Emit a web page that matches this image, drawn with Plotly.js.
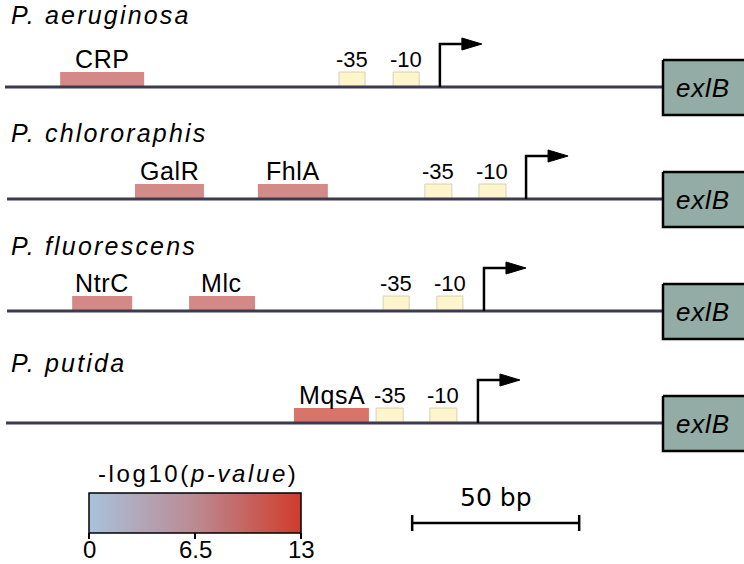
<!DOCTYPE html>
<html><head><meta charset="utf-8">
<script src="https://cdn.plot.ly/plotly-3.0.1.min.js"></script>
<style>html,body{margin:0;padding:0;background:#fff}#chart{width:744px;height:564px}</style>
</head><body><div id="chart"></div>
<script>
// ---- data (bp, relative to the exlB start codon) ----
const species = ['P. aeruginosa', 'P. chlororaphis', 'P. fluorescens', 'P. putida'];
const lineStart = [-197, -196.4, -196.4, -196.7];
const tss = [-66.8, -41.0, -53.6, -55.4];
const box35Start = [-97.0, -71.3, -83.8, -85.9];
const box35End = [-89.2, -63.2, -76.0, -77.8];
const box10Start = [-80.8, -55.1, -67.7, -69.8];
const box10End = [-73.0, -47.0, -59.9, -61.7];
const tfTrack = [0, 1, 1, 2, 2, 3];
const tfName = ['CRP', 'GalR', 'FhlA', 'NtrC', 'Mlc', 'MqsA'];
const tfStart = [-180.5, -158.1, -121.3, -176.9, -141.9, -110.5];
const tfEnd = [-155.4, -137.4, -100.3, -159.0, -122.2, -88.0];
const tfScore = [9.8, 9.6, 9.6, 9.8, 9.8, 12.2];
const geneName = 'exlB';
const scaleBarBp = 50;
const scaleBarStart = -75.1;
const cbMin = 0, cbMax = 13;
const cbTicks = [0, 6.5, 13];
const cbTickText = ['0', '6.5', '13'];

// ---- layout constants (pixels) ----
const W = 744, H = 564, PXBP = 3.34, GENE_PX = 663;
const xr = [-GENE_PX / PXBP, (W - GENE_PX) / PXBP];
const trackY = species.map((_, i) => 87 + 112 * i);
const labelBase = [25, 143, 256, 373];
const BOXH = 15, ARROWH = 43, ARM = 22 / PXBP, HEAD = 20 / PXBP, HEADH = 6;
const FONT = 'Liberation Sans, Arial, sans-serif';
const CB_X0 = 89, CB_LEN = 212, CB_TOP = 493, CB_THICK = 40;

const traces = [];
const ann = [];

// TF boxes as heatmap cells on a shared colour axis
tfName.forEach((n, k) => {
  const y0 = trackY[tfTrack[k]];
  traces.push({type: 'heatmap', x: [tfStart[k], tfEnd[k]], y: [y0 - BOXH, y0], z: [[tfScore[k]]],
    coloraxis: 'coloraxis', opacity: 0.75, hoverinfo: 'skip'});
  ann.push({x: (tfStart[k] + tfEnd[k]) / 2, y: y0 - BOXH, xref: 'x', yref: 'y', yanchor: 'bottom', xanchor: 'center',
    showarrow: false, yshift: -3,
    text: '<span style="letter-spacing:0.6px">' + n + '</span>', font: {family: FONT, size: 25, color: '#000'}});
});

species.forEach((sp, i) => {
  const y0 = trackY[i];
  // promoter boxes
  [[box35Start[i], box35End[i], '-35'], [box10Start[i], box10End[i], '-10']].forEach(b => {
    traces.push({type: 'scatter', mode: 'lines', x: [b[0], b[1], b[1], b[0], b[0]],
      y: [y0 - BOXH, y0 - BOXH, y0, y0, y0 - BOXH], fill: 'toself', fillcolor: '#fff5cc',
      line: {color: '#d6d2b4', width: 1}, hoverinfo: 'skip'});
    ann.push({x: (b[0] + b[1]) / 2, y: y0 - BOXH, xref: 'x', yref: 'y', yanchor: 'bottom', xanchor: 'center',
      showarrow: false, yshift: -2, text: b[2], font: {family: FONT, size: 22, color: '#000'}});
  });
  // DNA line
  traces.push({type: 'scatter', mode: 'lines', x: [lineStart[i], 0], y: [y0, y0],
    line: {color: '#3a3a52', width: 3}, hoverinfo: 'skip'});
  // gene box
  traces.push({type: 'scatter', mode: 'lines', x: [0, 40, 40, 0, 0], y: [y0 - 27, y0 - 27, y0 + 28, y0 + 28, y0 - 27],
    fill: 'toself', fillcolor: '#93aca6', line: {color: '#000', width: 2.5}, hoverinfo: 'skip'});
  ann.push({x: 0, y: y0 + 1, xref: 'x', yref: 'y', xanchor: 'left', yanchor: 'middle', xshift: 11, showarrow: false,
    text: '<i><span style="letter-spacing:0.8px">' + geneName + '</span></i>', font: {family: FONT, size: 26, color: '#000'}});
  // TSS arrow
  traces.push({type: 'scatter', mode: 'lines', x: [tss[i], tss[i], tss[i] + ARM], y: [y0, y0 - ARROWH, y0 - ARROWH],
    line: {color: '#000', width: 2.5}, hoverinfo: 'skip'});
  traces.push({type: 'scatter', mode: 'lines', x: [tss[i] + ARM, tss[i] + ARM + HEAD, tss[i] + ARM, tss[i] + ARM],
    y: [y0 - ARROWH - HEADH, y0 - ARROWH, y0 - ARROWH + HEADH, y0 - ARROWH - HEADH], fill: 'toself',
    fillcolor: '#000', line: {color: '#000', width: 1}, hoverinfo: 'skip'});
  // species label
  ann.push({x: 0, y: labelBase[i] + 6, xref: 'paper', yref: 'y', xanchor: 'left', yanchor: 'bottom', xshift: 9,
    showarrow: false, text: '<i><span style="letter-spacing:2.2px">' + sp + '</span></i>',
    font: {family: FONT, size: 25, color: '#000'}});
});

// scale bar
const sbY = 523;
traces.push({type: 'scatter', mode: 'lines',
  x: [scaleBarStart, scaleBarStart, null, scaleBarStart, scaleBarStart + scaleBarBp, null, scaleBarStart + scaleBarBp, scaleBarStart + scaleBarBp],
  y: [sbY - 8, sbY + 8, null, sbY, sbY, null, sbY - 8, sbY + 8],
  line: {color: '#000', width: 2.5}, hoverinfo: 'skip'});
ann.push({x: scaleBarStart + scaleBarBp / 2, y: 497, xref: 'x', yref: 'y', xanchor: 'center', yanchor: 'middle',
  showarrow: false, text: scaleBarBp + ' bp', font: {family: 'DejaVu Sans, sans-serif', size: 25, color: '#000'}});

// colour bar title and tick labels
ann.push({x: (CB_X0 + CB_LEN / 2 + 3) / W, y: 473, xref: 'paper', yref: 'y', xanchor: 'center', yanchor: 'middle', showarrow: false,
  text: '<span style="letter-spacing:2.6px">-log10(<i>p-value</i>)</span>', font: {family: FONT, size: 24, color: '#000'}});
cbTicks.forEach((v, j) => {
  ann.push({x: (CB_X0 + (v - cbMin) / (cbMax - cbMin) * CB_LEN) / W, y: 549, xref: 'paper', yref: 'y',
    xanchor: 'center', yanchor: 'middle', showarrow: false, text: cbTickText[j],
    font: {family: FONT, size: 24, color: '#000'}});
});

const layout = {
  width: W, height: H, margin: {l: 0, r: 0, t: 0, b: 0, autoexpand: false},
  paper_bgcolor: '#fff', plot_bgcolor: '#fff', showlegend: false,
  xaxis: {range: xr, visible: false, fixedrange: true},
  yaxis: {range: [H, 0], visible: false, fixedrange: true},
  coloraxis: {
    cmin: cbMin, cmax: cbMax,
    colorscale: [[0, '#a8c2dc'], [0.5, '#bb8a92'], [1, '#d03c2c']],
    colorbar: {
      orientation: 'h', x: (CB_X0 + CB_LEN / 2) / W, xanchor: 'center', y: 1 - CB_TOP / H, yanchor: 'top',
      len: CB_LEN, lenmode: 'pixels', thickness: CB_THICK, xpad: 0, ypad: 0,
      outlinewidth: 1.5, outlinecolor: '#000',
      tickvals: cbTicks, showticklabels: false, ticks: 'outside', ticklen: 6, tickwidth: 1.5, tickcolor: '#000',
      title: {text: ''}
    }
  },
  annotations: ann
};
Plotly.newPlot('chart', traces, layout, {staticPlot: true, displayModeBar: false});
</script></body></html>
